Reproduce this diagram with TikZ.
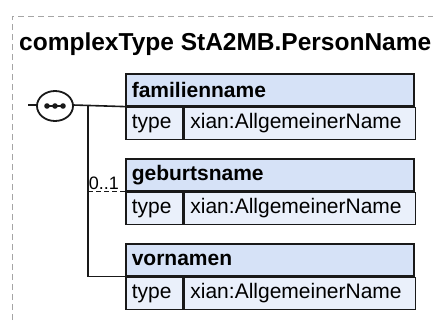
\documentclass[tikz,border=0pt]{standalone}
\usepackage{fontspec}
\setmainfont{Liberation Sans}
\usepackage{tikz}
\usetikzlibrary{shapes.geometric}

\definecolor{hdrfill}{RGB}{214,226,247}
\definecolor{rowfill}{RGB}{234,240,251}
\definecolor{boxline}{RGB}{25,25,25}
\definecolor{framegray}{RGB}{165,165,165}

\begin{document}
\begin{tikzpicture}[x=1pt, y=-1pt,
  hdr/.style={draw=boxline, fill=hdrfill, line width=1.6pt, anchor=north west,
    minimum width=288pt, minimum height=32pt, inner xsep=6pt, inner ysep=0pt,
    text width=276pt, align=left, font=\bfseries\fontsize{21}{21}\selectfont},
  key/.style={draw=boxline, fill=rowfill, line width=1.6pt, anchor=north west,
    minimum width=57pt, minimum height=32pt, inner xsep=6pt, inner ysep=0pt,
    text width=45pt, align=left, font=\fontsize{21}{21}\selectfont},
  val/.style={key, minimum width=231pt, text width=219pt},
  conn/.style={draw=boxline, line width=1.6pt}]

\useasboundingbox (0,0) rectangle (433,322);

\draw[framegray, line width=0.9pt, dash pattern=on 6pt off 4pt] (12,330) |- (440,16);
\node[anchor=base west, inner sep=0pt, font=\bfseries\fontsize{24.5}{24.5}\selectfont] (title) at (19,50) {complexType StA2MB.PersonName};

\foreach \id/\name/\y in {fam/familienname/73, geb/geburtsname/158, vor/vornamen/243}{
\node[hdr] (\id) at (125,\y) {\name};
\node[key] (\id k) at (\id.south west) {type};
\node[val] (\id v) at (\id k.north east) {xian:AllgemeinerName};
}

% sequence
\node[ellipse, minimum width=36pt, minimum height=30pt, inner sep=0pt] (seq) at (55,106) {};
\draw[boxline, fill=white, line width=1.8pt] (seq.center) ellipse (18 and 15);
\draw[boxline, line width=1.6pt] (47,106) -- (63,106);
\foreach \x in {47, 55, 63}{
\fill[boxline] (\x,106) circle (2.8);
}

\coordinate (in) at (28,105);
\coordinate (split) at (88,105);
\draw[conn] (in) -- (seq.west |- in);
\draw[conn] (seq.east |- in) -- (fam.south west);
\draw[conn] (split) |- (vor.south west);
\draw[conn, dash pattern=on 5pt off 3pt] (split |- geb.south west) -- (geb.south west)
  node[pos=0, anchor=south west, inner xsep=0pt, inner ysep=1.5pt, font=\fontsize{18}{18}\selectfont] (occ) {0..1};

\end{tikzpicture}
\end{document}
